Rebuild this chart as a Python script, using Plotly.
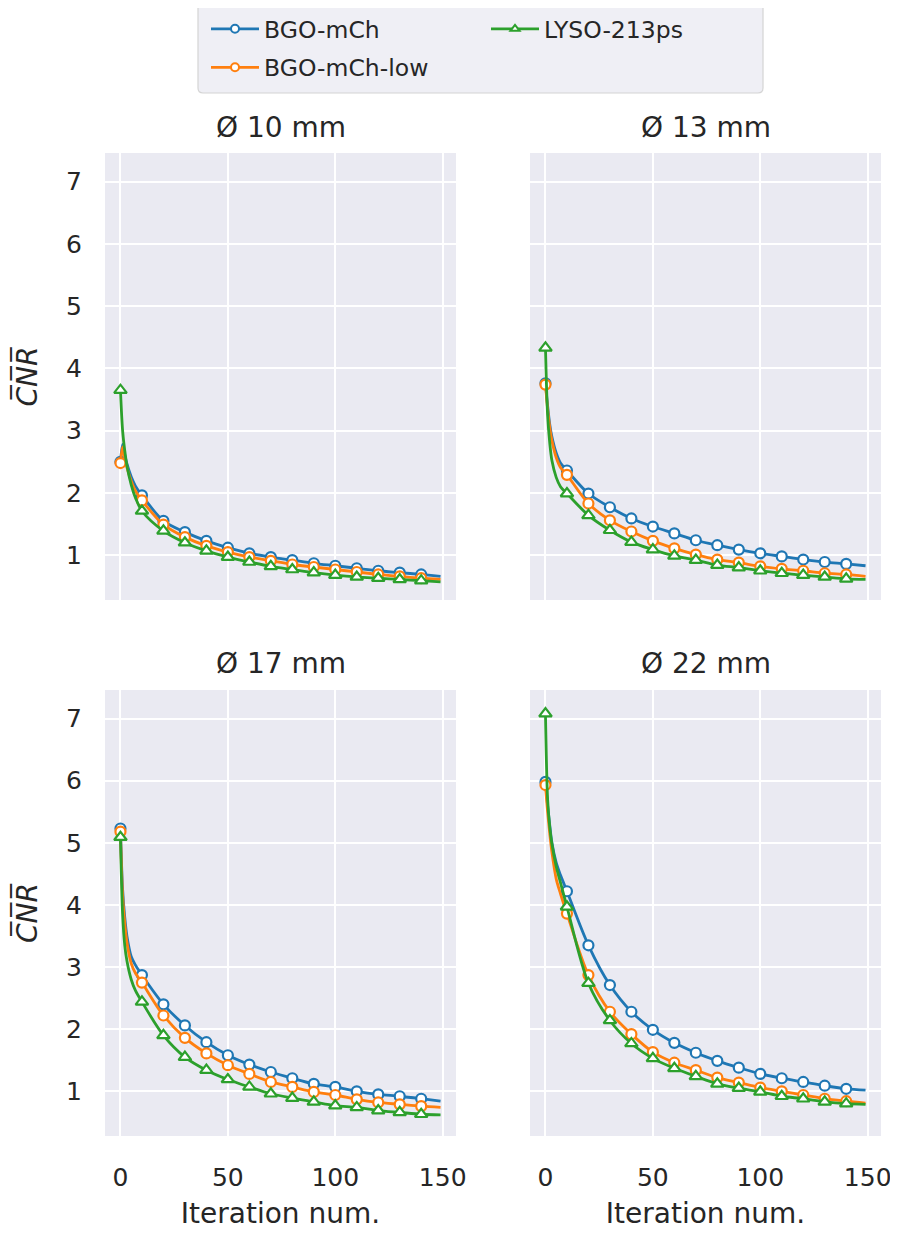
import plotly.graph_objects as go

# ---------------- data ----------------
ITERS = [0, 1, 2, 3, 5, 7, 10, 20, 30, 40, 50, 60, 70, 80, 90, 100, 110, 120, 130, 140, 149]

BGO_10 = [2.50, 2.78, 2.61, 2.47, 2.26, 2.11, 1.96, 1.55, 1.37, 1.23, 1.12, 1.03, 0.97, 0.92, 0.87, 0.83, 0.79, 0.75, 0.72, 0.69, 0.66]
LOW_10 = [2.48, 2.74, 2.56, 2.41, 2.19, 2.03, 1.88, 1.49, 1.29, 1.15, 1.05, 0.97, 0.91, 0.85, 0.81, 0.77, 0.73, 0.69, 0.66, 0.63, 0.61]
LYSO_10 = [3.65, 3.00, 2.68, 2.44, 2.13, 1.92, 1.71, 1.39, 1.20, 1.07, 0.97, 0.89, 0.82, 0.77, 0.72, 0.68, 0.65, 0.63, 0.61, 0.59, 0.57]

BGO_13 = [3.76, 3.40, 3.10, 2.90, 2.64, 2.48, 2.36, 1.99, 1.77, 1.59, 1.46, 1.35, 1.24, 1.16, 1.09, 1.03, 0.98, 0.93, 0.89, 0.86, 0.83]
LOW_13 = [3.74, 3.35, 3.05, 2.84, 2.57, 2.41, 2.29, 1.83, 1.56, 1.38, 1.23, 1.11, 1.01, 0.93, 0.88, 0.82, 0.78, 0.75, 0.71, 0.69, 0.66]
LYSO_13 = [4.33, 3.25, 2.80, 2.52, 2.25, 2.10, 1.99, 1.64, 1.40, 1.21, 1.09, 0.99, 0.92, 0.84, 0.80, 0.75, 0.71, 0.68, 0.65, 0.62, 0.61]

BGO_17 = [5.23, 4.25, 3.80, 3.50, 3.17, 3.03, 2.87, 2.40, 2.06, 1.79, 1.58, 1.43, 1.31, 1.21, 1.12, 1.07, 1.00, 0.95, 0.92, 0.88, 0.84]
LOW_17 = [5.18, 4.15, 3.70, 3.40, 3.06, 2.90, 2.75, 2.22, 1.86, 1.61, 1.42, 1.28, 1.15, 1.07, 0.99, 0.94, 0.87, 0.82, 0.79, 0.76, 0.74]
LYSO_17 = [5.09, 3.85, 3.35, 3.10, 2.80, 2.62, 2.44, 1.90, 1.55, 1.34, 1.19, 1.07, 0.96, 0.89, 0.83, 0.77, 0.74, 0.69, 0.66, 0.63, 0.62]

BGO_22 = [5.98, 5.60, 5.28, 5.00, 4.68, 4.48, 4.22, 3.35, 2.71, 2.28, 1.99, 1.78, 1.62, 1.49, 1.38, 1.28, 1.21, 1.15, 1.09, 1.04, 1.02]
LOW_22 = [5.93, 5.50, 5.15, 4.85, 4.42, 4.18, 3.86, 2.87, 2.28, 1.92, 1.63, 1.46, 1.34, 1.22, 1.14, 1.06, 1.00, 0.94, 0.88, 0.84, 0.81]
LYSO_22 = [7.08, 5.70, 5.25, 4.98, 4.62, 4.36, 3.97, 2.74, 2.14, 1.77, 1.53, 1.37, 1.24, 1.12, 1.05, 0.99, 0.92, 0.88, 0.83, 0.80, 0.79]

SERIES = ["BGO-mCh", "BGO-mCh-low", "LYSO-213ps"]
PANEL_TITLES = ["Ø 10 mm", "Ø 13 mm", "Ø 17 mm", "Ø 22 mm"]
PANEL_DATA = [
    [BGO_10, LOW_10, LYSO_10],
    [BGO_13, LOW_13, LYSO_13],
    [BGO_17, LOW_17, LYSO_17],
    [BGO_22, LOW_22, LYSO_22],
]
X_TICKS = [0, 50, 100, 150]
Y_TICKS = [1, 2, 3, 4, 5, 6, 7]
X_LABEL = "Iteration num."
Y_LABEL = "<i>C\u0305N\u0305R\u0305</i>"

# ---------------- style ----------------
COLORS = {"BGO-mCh": "#1f77b4", "BGO-mCh-low": "#ff7f0e", "LYSO-213ps": "#2ca02c"}
SYMBOLS = {"BGO-mCh": "circle", "BGO-mCh-low": "circle", "LYSO-213ps": "triangle-up"}
MSIZE = {"BGO-mCh": 10, "BGO-mCh-low": 10, "LYSO-213ps": 11}
TXT = "#262626"
FONT = "DejaVu Sans"

# the page body has an 8px margin; figure is laid out in screenshot pixels
OFF = 8
SCREEN_W, SCREEN_H = 898, 1233
W, H = SCREEN_W - OFF, SCREEN_H - OFF
PLOT_L, PLOT_R, PLOT_T, PLOT_B = 105, 881, 153, 1136
ML, MR, MT, MB = PLOT_L - OFF, SCREEN_W - PLOT_R, PLOT_T - OFF, SCREEN_H - PLOT_B
PW, PH = PLOT_R - PLOT_L, PLOT_B - PLOT_T


def px_x(p):
    return (p - PLOT_L) / PW


def px_y(p):
    return (PLOT_B - p) / PH


X_DOMS = [[0, px_x(456)], [px_x(530), 1]]
Y_DOMS = [[px_y(600), 1], [0, px_y(690)]]

fig = go.Figure()

for p, vals in enumerate(PANEL_DATA):
    xa = "x" if p == 0 else f"x{p + 1}"
    ya = "y" if p == 0 else f"y{p + 1}"
    for name, v in zip(SERIES, vals):
        c = COLORS[name]
        fig.add_trace(go.Scatter(
            x=ITERS, y=v, mode="lines",
            line=dict(color=c, width=2.8, shape="spline", smoothing=0.9),
            xaxis=xa, yaxis=ya, showlegend=False, hoverinfo="skip"))
        mx = [i for i in ITERS if i % 10 == 0 and i <= 140]
        my = [y for i, y in zip(ITERS, v) if i % 10 == 0 and i <= 140]
        fig.add_trace(go.Scatter(
            x=mx, y=my, mode="markers",
            marker=dict(symbol=SYMBOLS[name], size=MSIZE[name], color="white",
                        line=dict(color=c, width=2.2)),
            xaxis=xa, yaxis=ya, showlegend=False, hoverinfo="skip"))

# legend entries (matplotlib-like 2-column layout)
for name, leg in zip(SERIES, ["legend", "legend", "legend2"]):
    c = COLORS[name]
    fig.add_trace(go.Scatter(
        x=[None], y=[None], mode="lines+markers", name=name, legend=leg,
        legendgroup=name,
        line=dict(color=c, width=2.8),
        marker=dict(symbol=SYMBOLS[name], size=8, color="white",
                    line=dict(color=c, width=2)),
        showlegend=True))

axis_common = dict(
    showgrid=True, gridcolor="white", gridwidth=2, zeroline=False,
    showline=False, ticks="", tickfont=dict(size=25, color=TXT, family=FONT),
)

layout = dict(
    width=W, height=H,
    margin=dict(l=ML, r=MR, t=MT, b=MB, autoexpand=False),
    paper_bgcolor="white", plot_bgcolor="#EAEAF2",
    font=dict(family=FONT, color=TXT),
    showlegend=True,
)

for p in range(4):
    r, cidx = divmod(p, 2)
    xk = "xaxis" if p == 0 else f"xaxis{p + 1}"
    yk = "yaxis" if p == 0 else f"yaxis{p + 1}"
    xa = "x" if p == 0 else f"x{p + 1}"
    ya = "y" if p == 0 else f"y{p + 1}"
    xd = dict(axis_common, domain=X_DOMS[cidx], anchor=ya, range=[-7.2, 156.2],
              tickvals=X_TICKS, showticklabels=(r == 1), ticklabelstandoff=24)
    if r == 1:
        xd["title"] = dict(text=X_LABEL, font=dict(size=28, color=TXT, family=FONT), standoff=12)
    yd = dict(axis_common, domain=Y_DOMS[r], anchor=xa, range=[0.28, 7.46],
              tickvals=Y_TICKS, showticklabels=(cidx == 0), ticklabelstandoff=22)
    if cidx == 0:
        yd["title"] = dict(text=Y_LABEL, font=dict(size=28, color=TXT, family=FONT), standoff=20)
    layout[xk] = xd
    layout[yk] = yd

layout["legend"] = dict(
    x=px_x(206), y=px_y(7), xanchor="left", yanchor="top",
    bgcolor="rgba(0,0,0,0)", borderwidth=0, tracegroupgap=5, itemwidth=48,
    font=dict(size=23.5, color=TXT, family=FONT), orientation="v")
layout["legend2"] = dict(
    x=px_x(486), y=px_y(7), xanchor="left", yanchor="top",
    bgcolor="rgba(0,0,0,0)", borderwidth=0, tracegroupgap=5, itemwidth=48,
    font=dict(size=23.5, color=TXT, family=FONT), orientation="v")

# rounded legend frame
x0, x1, y0, y1 = px_x(198), px_x(763), px_y(93), px_y(3)
rx, ry = 5 / PW, 5 / PH
path = (f"M {x0 + rx},{y1} L {x1 - rx},{y1} Q {x1},{y1} {x1},{y1 - ry} "
        f"L {x1},{y0 + ry} Q {x1},{y0} {x1 - rx},{y0} L {x0 + rx},{y0} "
        f"Q {x0},{y0} {x0},{y0 + ry} L {x0},{y1 - ry} Q {x0},{y1} {x0 + rx},{y1} Z")
layout["shapes"] = [dict(type="path", xref="paper", yref="paper", path=path,
                         fillcolor="#EFEFF5", line=dict(color="#D4D4D4", width=1.2),
                         layer="below")]

annotations = []
title_y = [px_y(128), px_y(128), px_y(663), px_y(663)]
for p, t in enumerate(PANEL_TITLES):
    r, cidx = divmod(p, 2)
    annotations.append(dict(
        text=t, xref="paper", yref="paper", x=sum(X_DOMS[cidx]) / 2, y=title_y[p],
        xanchor="center", yanchor="middle", showarrow=False,
        font=dict(size=28, color=TXT, family=FONT)))
layout["annotations"] = annotations

fig.update_layout(**layout)
fig.write_html("out.html")
